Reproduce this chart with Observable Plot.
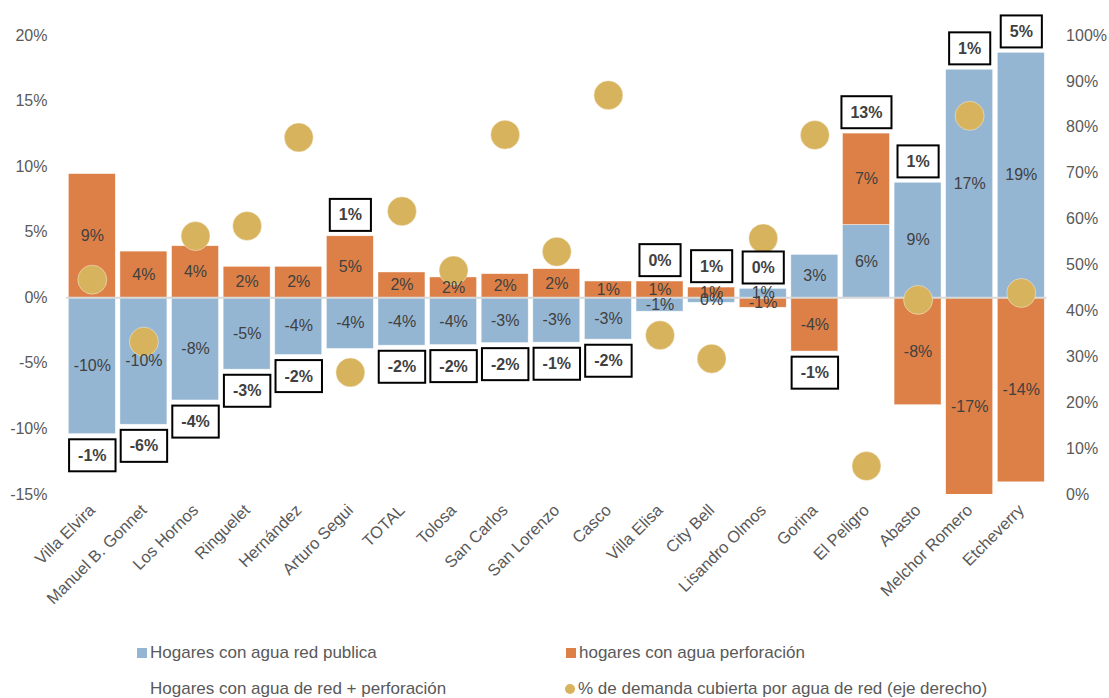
<!DOCTYPE html>
<html><head><meta charset="utf-8">
<script src="https://cdn.jsdelivr.net/npm/d3@7"></script>
<script src="https://cdn.jsdelivr.net/npm/@observablehq/plot@0.6"></script>
<style>
body{margin:0;background:#fff;font-family:"Liberation Sans",Arial,sans-serif;}
#wrap{position:relative;width:1109px;height:698px;overflow:hidden;background:#fff}
.leg{position:absolute;font-size:17px;color:#595959;white-space:nowrap;line-height:20px}
.sw{position:absolute;width:10px;height:10px}
</style></head><body>
<div id="wrap"><div id="chart"></div>
<div class="sw" style="left:137px;top:648px;background:#95B6D3"></div>
<div class="leg" id="l1" style="left:150px;top:643px"></div>
<div class="sw" style="left:566px;top:648px;background:#DD8047"></div>
<div class="leg" id="l2" style="left:579px;top:643px"></div>
<div class="leg" id="l3" style="left:150px;top:679px"></div>
<div class="sw" style="left:565px;top:684px;background:#D8B35E;border-radius:50%"></div>
<div class="leg" id="l4" style="left:578px;top:679px"></div>
</div>
<script>
const categories = ["Villa Elvira","Manuel B. Gonnet","Los Hornos","Ringuelet","Hernández","Arturo Segui","TOTAL","Tolosa","San Carlos","San Lorenzo","Casco","Villa Elisa","City Bell","Lisandro Olmos","Gorina","El Peligro","Abasto","Melchor Romero","Etcheverry"];
const redPublica = [-10.4, -9.68, -7.83, -5.48, -4.36, -3.9, -3.65, -3.6, -3.45, -3.42, -3.19, -1.06, -0.38, 0.68, 3.27, 5.55, 8.77, 17.39, 18.68];
const perforacion = [9.43, 3.52, 3.93, 2.36, 2.36, 4.69, 1.93, 1.55, 1.8, 2.18, 1.24, 1.24, 0.78, -0.76, -4.1, 6.97, -8.19, -16.6, -14.07];
const redMasPerforacion = [-0.97, -6.16, -3.9, -3.12, -2.0, 0.79, -1.72, -2.05, -1.65, -1.24, -1.95, 0.18, 0.6, 0.2, -0.83, 12.52, 0.58, 0.8, 4.61];
const demandaCubierta = [46.8, 33.3, 56.3, 58.5, 77.8, 26.6, 61.7, 48.8, 78.4, 52.9, 87.0, 34.7, 29.6, 55.8, 78.3, 6.2, 42.4, 82.5, 43.9];
const leftTicks = [-15, -10, -5, 0, 5, 10, 15, 20];
const rightTicks = [0, 10, 20, 30, 40, 50, 60, 70, 80, 90, 100];
const series = ["Hogares con agua red publica", "hogares con agua perforación"];
const seriesNet = "Hogares con agua de red + perforación";
const seriesDot = "% de demanda cubierta por agua de red (eje derecho)";
const colors = ["#95B6D3", "#DD8047"];
const dotColor = "#D8B35E";

document.getElementById("l1").textContent = series[0];
document.getElementById("l2").textContent = series[1];
document.getElementById("l3").textContent = seriesNet;
document.getElementById("l4").textContent = seriesDot;

const yDomain = [-15, 20];
const toLeft = p => yDomain[0] + p / 100 * (yDomain[1] - yDomain[0]);
const toRight = v => (v - yDomain[0]) / (yDomain[1] - yDomain[0]) * 100;
const fmt = v => `${Math.round(v)}%`;

const rows = [];
categories.forEach((c, i) => {
  rows.push({cat: c, serie: series[0], v: redPublica[i]});
  rows.push({cat: c, serie: series[1], v: perforacion[i]});
});
const totals = categories.map((c, i) => {
  const a = redPublica[i], b = perforacion[i], n = redMasPerforacion[i];
  const pos = Math.max(a, 0) + Math.max(b, 0), neg = Math.min(a, 0) + Math.min(b, 0);
  return {cat: c, n, y: n >= 0 ? pos : neg};
});
const dots = categories.map((c, i) => ({cat: c, y: toLeft(demandaCubierta[i])}));

const plot = Plot.plot({
  width: 1109, height: 640,
  marginTop: 35, marginBottom: 146, marginLeft: 66, marginRight: 62.4,
  style: {fontFamily: '"Liberation Sans", Arial, sans-serif', fontSize: "16px", color: "#595959", background: "#fff"},
  x: {domain: categories, paddingInner: 0.09, paddingOuter: 0.045, round: false, label: null},
  y: {domain: yDomain, label: null},
  color: {domain: series, range: colors},
  marks: [
    Plot.barY(rows, {x: "cat", y: "v", fill: "serie", clip: true, stroke: "#fff", strokeWidth: 0.6, strokeOpacity: 0.7}),
    Plot.ruleY([0], {stroke: "#D9D9D9", strokeWidth: 2}),
    Plot.dot(dots, {x: "cat", y: "y", r: 14.5, fill: dotColor, stroke: "#fff", strokeWidth: 0.8, strokeOpacity: 0.5}),
    Plot.text(rows, Plot.stackY({x: "cat", y: "v", text: d => fmt(d.v), fill: "#404040", fontSize: 16})),
    Plot.text(totals.filter(d => d.n >= 0), {x: "cat", y: "y", dy: -21, text: d => fmt(d.n), fontWeight: "bold", fill: "#404040", fontSize: 16}),
    Plot.text(totals.filter(d => d.n < 0), {x: "cat", y: "y", dy: 21.5, text: d => fmt(d.n), fontWeight: "bold", fill: "#404040", fontSize: 16}),
    Plot.axisY(leftTicks, {anchor: "left", tickFormat: d => `${d}%`, tickSize: 0, tickPadding: 19, label: null, fontSize: 16}),
    Plot.axisY(rightTicks.map(toLeft), {anchor: "right", tickFormat: d => `${Math.round(toRight(d))}%`, tickSize: 0, tickPadding: 19, label: null, fontSize: 16}),
    Plot.axisX({tickRotate: -45, tickSize: 0, tickPadding: 13, label: null, fontSize: 16.5})
  ]
});
document.getElementById("chart").append(plot);

// draw boxes behind the net (red + perforación) labels: 2nd and 3rd text marks
const textGroups = Array.from(plot.querySelectorAll('g[aria-label="text"]'));
textGroups.slice(1, 3).forEach(g => {
  g.querySelectorAll("text").forEach(t => {
    const b = t.getBBox();
    const r = document.createElementNS("http://www.w3.org/2000/svg", "rect");
    r.setAttribute("x", b.x - 9);
    r.setAttribute("y", b.y - 7.5);
    r.setAttribute("width", b.width + 18);
    r.setAttribute("height", b.height + 15);
    r.setAttribute("fill", "#fff");
    r.setAttribute("stroke", "#000");
    r.setAttribute("stroke-width", 2);
    const tr = t.getAttribute("transform");
    if (tr) r.setAttribute("transform", tr);
    t.parentNode.insertBefore(r, t);
  });
});
</script>
</body></html>
